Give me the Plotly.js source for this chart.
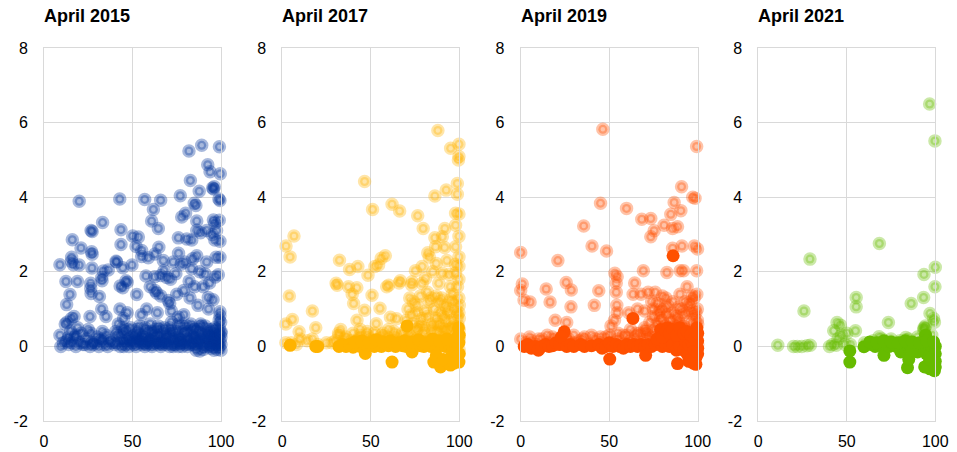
<!DOCTYPE html>
<html>
<head>
<meta charset="utf-8">
<script src="https://cdn.plot.ly/plotly-3.0.1.min.js"></script>
<style>html,body{margin:0;padding:0;background:#fff;}#chart{width:957px;height:452px;}</style>
</head>
<body>
<div id="chart"></div>
<script>
// ---------- Data ----------
const panelTitles = ["April 2015", "April 2017", "April 2019", "April 2021"];
const xTicks = [0, 50, 100];
const yTicks = [-2, 0, 2, 4, 6, 8];

// April 2015 – translucent points
const x2015 = [89.1,81.9,99.1,92.5,93.8,99.6,82.7,87.7,95.3,95.8,96.2,99.4,98.8,77,19.9,42.8,56.9,65.9,61.8,84.9,85.8,80,77.8,60.8,64.6,86.3,95.7,99,96.5,26.6,27.2,33.1,43.5,16,50.1,53.3,43.5,20.9,26.9,27.2,52,55.2,55.2,64.9,58.9,67.4,62.7,9,15.6,15.6,16.6,19.9,27.1,33.5,36.3,40.7,44.5,49.7,57.6,62.6,12.4,18.9,26.4,26.4,32.6,32.8,46.3,44.5,14.7,12.8,26.6,31.3,32.6,26,52.4,63.7,42.9,67.8,73,79.6,83.4,86.3,91.9,99.4,97.2,98.5,96.8,91,69.3,71.5,74.5,82,70.2,71,79,85,82.5,92.8,95.5,99.4,99.4,75.9,75.9,80.7,86.3,91.9,97.5,99.4,96.5,88.5,83.5,95,77.5,76,84,88,93.5,90,75,87,93,66,60,66,58,55,64,72,79,47,35,13,41,47,43,62.7,
  9,9.5,12,13,14,15,15.5,16,17,17.5,18,19,20,21,23,24,26,26.5,27,28,30,31,32,33,34,35,36,38,40,41,42,43,44,45,45.5,46,47,48,49,50,51,52,53,54,55,56,57,58,59,60,61,62,63,64,65,66,67,68,69,70,71,72,73,74,75,76,77,78,79,80,81,82,83,84,85,86,87,88,89,90,91,92,93,94,95,96,96.5,97,98,98.5,99,99.5,100,100,99.8,55,60,65,70,75,80,85,90,95,62,72,82,92,58,68,78,88,97,100,46,52,76,84,93,57,67,77,87,98,53,63,73,83,94,
  41,43,45,47,49,51,53,55,57,59,61,63,65,67,69,71,73,75,77,79,81,83,85,87,89,91,93,95,97,99,40.5,44.5,48.5,52.5,56.5,60.5,64.5,68.5,72.5,76.5,80.5,84.5,88.5,92.5,96.5,100,11,14,18,22,25,29,33,37,86,88,90,94,96,98,100,99];
const y2015 = [5.39,5.24,5.35,4.87,4.68,4.63,4.45,4.16,4.25,4.22,4.28,3.91,3.95,4.04,3.89,3.95,3.94,3.92,3.67,3.84,3.78,3.57,3.47,3.36,3.16,3.36,3.39,3.38,3.3,3.11,3.08,3.32,3.13,2.86,2.96,2.93,2.73,2.64,2.54,2.47,2.68,2.57,2.41,2.66,2.38,2.3,2.48,2.19,2.39,2.28,2.19,2.18,2.1,2.02,2.05,2.28,2.11,2.18,1.89,1.87,1.74,1.74,1.69,1.55,1.85,1.76,1.76,1.57,1.39,1.12,1.42,1.34,1,0.8,1.39,1.43,1,2.03,2.26,2.26,2.08,2.43,2.26,2.39,2.39,1.92,1.86,1.94,1.85,1.8,1.95,1.75,1.23,1.15,1.5,1.6,1.3,1.31,1.25,0.93,0.82,0.78,2.91,2.88,3.11,3.11,3.11,2.82,2.85,3.05,2.85,3,2.2,2.5,2.35,2,1.7,1.6,1.4,1.1,1,1.9,1.6,1.35,1,0.85,0.9,0.95,0.85,0.9,0.8,0.65,2.26,1.72,1.62,1.5,
  0.3,0,0.6,0.15,0.05,0.4,0.75,0.1,0.8,0.25,0,0.5,0.1,0.35,0.05,0.2,0,0.35,0.1,0.05,0.25,0,0.15,0.4,0.05,0.3,0,0.1,0.05,0.3,0.6,0,0.15,0.75,0.4,0.05,0.25,0,0.5,0.1,0.3,0,0.15,0.55,0.05,0.25,0,0.4,0.1,0.6,0,0.2,0.45,0.05,0.3,0,0.15,0.5,0.05,0.3,0,0.65,0.2,0.05,0.4,0,0.25,0.55,0.1,0.35,0,0.2,0.6,0.05,0.3,0,0.45,0.1,0.25,0,0.55,0.15,0,0.35,0.1,0,0.5,0.2,0.05,0.3,0,0.15,0.05,0.4,0.65,0.2,0.15,0.1,0.1,0.15,0.05,0.15,0.2,0.25,0.35,0.4,0.4,0.35,0.05,0.2,0,0.35,0.4,0.25,0.15,0.25,0.6,0.5,0.45,0.1,0.05,0.1,0.15,0.1,0.2,0.1,0.05,0.1,0.05,
  0.1,0.3,0,0.45,0.15,0.05,0.35,0.1,0.5,0.2,0.05,0.3,0.45,0.1,0.25,0.5,0,0.3,0.1,0.4,0.2,0.05,0.45,0.2,0.55,0.05,0.25,0.45,0.1,0.5,0.4,0.5,0.2,0.45,0.3,0.4,0.55,0.4,0.35,0.2,0.55,0.25,0.6,0.3,0.2,0.35,0.1,0.25,0.3,0.05,0.45,0.1,0.2,0.15,-0.1,-0.12,-0.08,-0.05,-0.1,-0.08,-0.1,0.7];

// April 2017 – translucent points
const x2017 = [87.9,95.1,99.8,99.8,99.5,46.5,98.9,92.6,86.2,98.9,51,62,66.3,76.5,79.6,97.9,99.8,97.9,91.8,86.2,90.4,99.8,6.6,2.1,4.4,82.2,86.6,91.7,97.9,99.8,87,97.9,99.8,58.2,55.9,54.4,32.3,38,42.7,48.4,52.3,75.2,79,80.9,90.4,94.2,97.9,99.8,30.4,37.4,42.1,60.1,66.7,73.3,79,88.4,83,85,93,95,4,17,5.7,2,9.5,18.9,31,40.3,39.5,46.5,42.2,50.7,55.2,53.1,61.1,64.5,59,66,73,72,78,84,89,93,97,99.8,99.8,76,82,87,91,96,99.5,31.8,33,5,10,17,44,48,57,63,70,74,80,85,90,94,98,
  20,25,30,35,38,42,45,50,55,60,65,70,75,80,85,90,95,100,100,2,8,14,28,
  32,36,40,44,48,52,56,60,64,68,72,76,80,84,88,92,96,100,34,39,43,47,51,55,59,63,67,71,75,79,83,87,91,95,99,70,73,76,78,81,83,86,88,90,92,94,96,98,100,99,71,74,77,79,82,85,87,89,91,93,95,97,99,100];
const y2017 = [5.79,5.31,5.42,5.09,5,4.42,4.37,4.19,4.03,4.08,3.67,3.81,3.63,3.5,3.16,3.57,3.55,3.25,3.16,2.91,2.94,2.95,2.96,2.69,2.4,2.51,2.67,2.65,2.67,2.4,2.22,2.2,2.15,2.43,2.36,2.18,2.31,2.06,2.14,1.91,2.14,2.03,2.14,1.82,1.96,1.93,1.96,1.8,1.69,1.6,1.57,1.64,1.76,1.73,1.69,1.69,2.4,2,2.3,1.6,1.35,0.95,0.72,0.6,0.39,0.5,1.64,1.15,1.4,0.97,0.7,1.37,1.02,0.61,0.78,0.74,1.6,1.7,1.65,1.3,1.35,1.3,1.2,1,1.2,1.3,0.9,0.9,0.8,0.75,0.8,0.7,0.55,0.35,0.45,0.1,0.2,0.2,0.45,0.3,0.35,0.4,0.45,0.6,0.5,0.4,0.55,0.45,0.3,
  0.05,0.1,0.15,0.2,0.05,0.15,0.1,0.2,0.15,0.1,0.2,0.15,0.25,0.2,0.1,0.25,0.15,0.2,-0.1,0.1,0.05,0.15,0.1,
  0.3,0.25,0.35,0.3,0.4,0.35,0.3,0.45,0.3,0.35,0.3,0.45,0.35,0.5,0.4,0.45,0.5,0.45,0.1,0.15,0.2,0.1,0.15,0.2,0.25,0.15,0.1,0.2,0.15,0.1,0.2,0.15,0.1,0.2,0.15,0.7,0.85,1.1,0.6,0.95,1.2,1,0.6,1.3,1.1,0.9,1.4,1,0.75,1.6,1,1.2,0.5,0.75,1.45,0.6,1.35,0.9,0.45,0.7,1.25,0.55,0.85,1.1];
// April 2017 – solid points
const x2017s = [4.4,18.9,20,32,34,36,38,40,42,44,46,46.9,48,50,52,54,56,58,60,62,62,64,66,68,70,70.5,72,73.3,74,76,78,80,82,84,85.6,86,88,89.4,90,92,94,96,96,98,98.5,99.8,99.8,100,99.5,100,93,95,87,91,97,
  41,45,49,53,57,61,65,69,73,77,81,85,89,93,97,99];
const y2017s = [0.03,0,0,0,0.05,0,0.05,-0.02,0.05,0,0.05,-0.19,0.02,0.05,0,0.05,0,0.05,0.02,-0.42,0.05,0,0.05,0.02,0,0.55,0.05,-0.15,0,0.05,0.02,0,0.05,0,-0.42,0.05,0,-0.55,0.05,0,0.05,-0.2,0.02,0,-0.3,-0.42,0.1,0.3,0.5,-0.2,-0.4,-0.5,-0.25,-0.35,-0.45,
  0.12,0.15,0.1,0.18,0.12,0.15,0.1,0.15,0.12,0.18,0.1,0.2,0.15,0.2,0.15,0.25];

// April 2019 – translucent points
const x2019 = [46.4,99.4,90.9,97.2,98.5,86.7,45.1,59.8,84.8,90.5,68.4,73.5,81,85.8,88.6,75.4,73.5,35.6,40.3,48.5,0,21,85.8,91.1,98.1,99.9,69.3,82.6,90.1,92,99.4,53.2,54.5,54,0.9,0,14.4,25.7,28.6,44.1,64.4,54,63.5,68,72,76,80,94,97,99.5,1.9,5.3,16.6,28.4,41.6,19.5,26,54.3,54.5,53,51,61,66,70,75,79,83,86,89,92,95,98,99.8,99.8,77,82,85,90,94,97,99.5,58,62,67,
  0,3,6,9,12,15,18,22,27,30,33,36,39,42,45,48,52,55,58,62,65,68,72,75,78,81,84,87,90,93,96,99,100,
  70,72,74,76,78,80,82,84,86,88,90,92,94,96,98,100,71,75,79,83,87,91,95,99,73,77,81,85,89,93,97,5,10,15,20,25,30,35,40,45,50,55,60,65,70];
const y2019 = [5.82,5.36,4.28,4,3.97,3.86,3.84,3.7,3.54,3.64,3.41,3.43,3.25,3.16,3.21,3.1,2.94,3.23,2.69,2.56,2.52,2.3,2.63,2.69,2.69,2.61,2.03,1.98,2.03,2.03,2.03,1.96,1.87,1.7,1.67,1.5,1.54,1.71,1.51,1.49,1.7,1.45,1.4,1.4,1.45,1.45,1.35,1.6,1.35,1.4,1.24,1.19,1.19,1.06,1.1,0.7,0.64,1.1,0.9,0.7,0.55,0.9,1,0.95,0.8,1,1.1,0.9,1.05,0.85,1.1,1.3,1,0.7,0.6,0.55,0.7,0.6,0.5,0.65,0.45,0.3,0.45,0.35,
  0.2,0.1,0.15,0.05,0.2,0.1,0.25,0.15,0.2,0.1,0.15,0.25,0.05,0.2,0.1,0.25,0.1,0.2,0.05,0.15,0.25,0.1,0.2,0.3,0.15,0.35,0.2,0.3,0.15,0.3,0.2,0.35,0.05,
  0.5,0.3,1.2,0.45,0.9,0.7,1.3,0.45,1.2,0.8,1.4,0.55,0.9,1.2,0.8,0.6,0.4,1,0.75,0.85,0.55,1,0.35,0.9,0.65,1.15,1,0.5,0.7,1.2,0.95,0.25,0.2,0.3,0.2,0.25,0.3,0.2,0.3,0.25,0.3,0.35,0.3,0.35,0.4];
// April 2019 – solid points
const x2019s = [86.1,63.4,24.6,2,4,6,8,10,12,14,16,18,20,22,23,26,28,30,34,36,40,44,46,48,50,50.3,52,54,56,58,60,62,64,66,68,70,70.6,72,74,76,78,79,80,81,82,83,84,85,86,87,88,88.6,89,90,91,92,93,94,95,96,97,97.5,98,98.5,99,99.5,100,100,100,99,95,
  77,80,82,84,86,88,90,92,94,96,98,100];
const y2019s = [2.43,0.75,0.39,0,0.05,-0.05,0,-0.1,0,0.05,0,0.02,0.1,0.05,0.25,0,0.05,0,0.05,0,0.02,0.05,-0.05,0,0.1,-0.34,0,0.05,0,-0.05,0.05,0,0.05,0,0.05,0,-0.24,0.05,0,0.05,0.1,0.45,0,0.3,0.05,0.5,0,0.25,0.05,0.4,-0.1,-0.46,0.2,0,0.3,-0.1,0.15,-0.2,0.05,-0.35,0.1,-0.45,-0.1,0.3,-0.3,0.5,-0.05,-0.2,0.15,-0.48,-0.4,
  0.2,0.25,0.4,0.35,0.45,0.3,0.5,0.35,0.4,0.3,0.2,0.35];

// April 2021 – translucent points
const x2021 = [96.8,99.8,68.4,29.2,100,93.6,99.8,55.3,55.3,93.4,86.4,25.8,97,99,99.5,73.5,44.5,46.4,42.6,54.9,93.6,93.4,11,19.9,22,24.6,27.5,29.4,40.2,42,44,45,47,50,52,68.2,83.3,93.9,94.5,49,60,65,70,75,80,85,90,98];
const y2021 = [6.5,5.51,2.76,2.34,2.12,1.93,1.6,1.31,1.06,1.31,1.15,0.95,0.88,0.75,0.65,0.64,0.64,0.57,0.42,0.42,0.5,0.44,0.03,0,0,0,0.02,0.03,0,0.05,0.03,0.2,0.3,0.35,0.05,0.26,0.24,0.48,0.55,0.05,0.1,0.15,0.2,0.2,0.15,0.2,0.25,0.3];
// April 2021 – solid points
const x2021s = [51.7,51.7,59.7,64,66,68,70,71,72,74,76,78,80,80.5,82,84,84.3,85,86,88,90,92,94,95,96,96.5,97,98,98,99,99.5,100,100,100,99,94.5,94,90,87,
  63,67,71,75,79,83,87,91,95,99,97,100];
const y2021s = [-0.12,-0.42,-0.01,0.05,0,0.05,0,-0.24,0.05,0,0.05,0,0.05,-0.15,0,0.05,-0.57,-0.35,0,0.05,0,0.05,0,-0.2,0.05,-0.45,-0.6,0,-0.3,-0.5,-0.65,0,-0.2,-0.4,0.1,0.3,-0.55,-0.15,-0.1,
  0.12,0.1,0.15,0.12,0.1,0.15,0.12,0.1,0.15,0.12,-0.35,-0.55];

const panelColors = ["0,51,153", "255,179,0", "255,80,0", "102,187,0"];
const ringX = [x2015, x2017, x2019, x2021];
const ringY = [y2015, y2017, y2019, y2021];
const solidX = [[], x2017s, x2019s, x2021s];
const solidY = [[], y2017s, y2019s, y2021s];

// ---------- Layout geometry (pixels) ----------
const W = 957, H = 452;
const panelLeft = [44, 282.3, 520.7, 758.3];
const panelWidth = 177;

const traces = [];
const layout = {
  width: W, height: H,
  margin: {l: 0, r: 0, t: 48, b: 31},
  paper_bgcolor: "#ffffff",
  plot_bgcolor: "#ffffff",
  showlegend: false,
  font: {family: "Liberation Sans, Arial, sans-serif", size: 16, color: "#000"},
  annotations: []
};

for (let i = 0; i < 4; i++) {
  const xa = i === 0 ? "x" : "x" + (i + 1);
  const ya = i === 0 ? "y" : "y" + (i + 1);
  const c = panelColors[i];
  traces.push({
    type: "scatter", mode: "markers", xaxis: xa, yaxis: ya,
    x: ringX[i], y: ringY[i], cliponaxis: false, hoverinfo: "skip",
    marker: {size: 9, color: "rgba(" + c + ",0.34)", line: {width: 4.5, color: "rgba(" + c + ",0.34)"}}
  });
  traces.push({
    type: "scatter", mode: "markers", xaxis: xa, yaxis: ya,
    x: solidX[i], y: solidY[i], cliponaxis: false, hoverinfo: "skip",
    marker: {size: 13, color: "rgb(" + c + ")", line: {width: 0}}
  });
  const d0 = panelLeft[i] / W, d1 = (panelLeft[i] + panelWidth) / W;
  const axx = {
    domain: [d0, d1], range: [0, 100], tickvals: xTicks, ticktext: xTicks.map(String),
    showgrid: true, gridcolor: "#d9d9d9", gridwidth: 1,
    zeroline: false, showline: true, linecolor: "#d9d9d9", linewidth: 1, mirror: true,
    ticks: "", ticklabelstandoff: 6, anchor: ya, fixedrange: true,
    tickfont: {size: 16, color: "#000"}
  };
  const axy = {
    domain: [0, 1], range: [-2, 8], tickvals: yTicks, ticktext: yTicks.map(String),
    showgrid: true, gridcolor: "#d9d9d9", gridwidth: 1,
    zeroline: true, zerolinecolor: "#d9d9d9", zerolinewidth: 1,
    showline: true, linecolor: "#d9d9d9", linewidth: 1, mirror: true,
    ticks: "", ticklabelstandoff: 12, anchor: xa, fixedrange: true,
    tickfont: {size: 16, color: "#000"}
  };
  layout[i === 0 ? "xaxis" : "xaxis" + (i + 1)] = axx;
  layout[i === 0 ? "yaxis" : "yaxis" + (i + 1)] = axy;
  layout.annotations.push({
    text: "<b>" + panelTitles[i] + "</b>", xref: "paper", yref: "paper",
    x: (panelLeft[i] - 2) / W, y: 1, xanchor: "left", yanchor: "middle", yshift: 32,
    showarrow: false, font: {size: 18, color: "#000", family: "Liberation Sans, Arial, sans-serif"}
  });
}

Plotly.newPlot("chart", traces, layout, {displayModeBar: false, staticPlot: true});
</script>
</body>
</html>
